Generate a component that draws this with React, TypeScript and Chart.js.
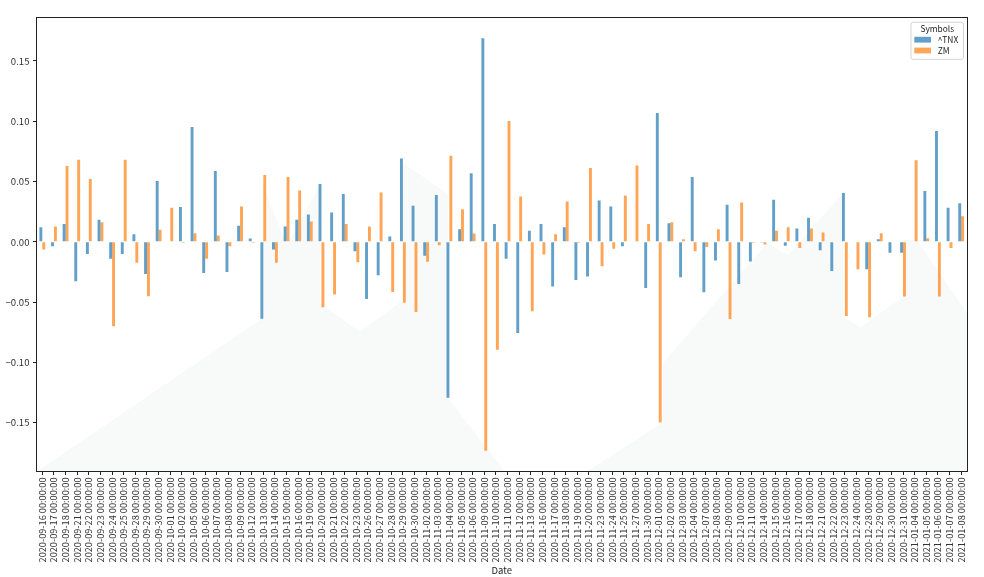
import React, { useEffect, useRef } from 'react';
import { Chart, registerables } from 'chart.js';

Chart.register(...registerables);

// ---------- data ----------
const dates: string[] = [
  '2020-09-16', '2020-09-17', '2020-09-18', '2020-09-21', '2020-09-22', '2020-09-23', '2020-09-24', '2020-09-25',
  '2020-09-28', '2020-09-29', '2020-09-30', '2020-10-01', '2020-10-02', '2020-10-05', '2020-10-06', '2020-10-07',
  '2020-10-08', '2020-10-09', '2020-10-12', '2020-10-13', '2020-10-14', '2020-10-15', '2020-10-16', '2020-10-19',
  '2020-10-20', '2020-10-21', '2020-10-22', '2020-10-23', '2020-10-26', '2020-10-27', '2020-10-28', '2020-10-29',
  '2020-10-30', '2020-11-02', '2020-11-03', '2020-11-04', '2020-11-05', '2020-11-06', '2020-11-09', '2020-11-10',
  '2020-11-11', '2020-11-12', '2020-11-13', '2020-11-16', '2020-11-17', '2020-11-18', '2020-11-19', '2020-11-20',
  '2020-11-23', '2020-11-24', '2020-11-25', '2020-11-27', '2020-11-30', '2020-12-01', '2020-12-02', '2020-12-03',
  '2020-12-04', '2020-12-07', '2020-12-08', '2020-12-09', '2020-12-10', '2020-12-11', '2020-12-14', '2020-12-15',
  '2020-12-16', '2020-12-17', '2020-12-18', '2020-12-21', '2020-12-22', '2020-12-23', '2020-12-24', '2020-12-28',
  '2020-12-29', '2020-12-30', '2020-12-31', '2021-01-04', '2021-01-05', '2021-01-06', '2021-01-07', '2021-01-08',
];
const timeSuffix = '00:00:00';

const tnx: number[] = [
  0.0122, -0.0036, 0.0147, -0.0327, -0.0100, 0.0183, -0.0141, -0.0100,
  0.0064, -0.0266, 0.0504, 0.0000, 0.0288, 0.0953, -0.0258, 0.0587,
  -0.0249, 0.0133, 0.0028, -0.0637, -0.0064, 0.0127, 0.0183, 0.0227,
  0.0479, 0.0244, 0.0396, -0.0078, -0.0474, -0.0277, 0.0044, 0.0692,
  0.0299, -0.0116, 0.0388, -0.1293, 0.0105, 0.0568, 0.1689, 0.0147,
  -0.0141, -0.0756, 0.0091, 0.0147, -0.0371, 0.0122, -0.0316, -0.0288,
  0.0343, 0.0294, -0.0036, 0.0000, -0.0382, 0.1069, 0.0155, -0.0294,
  0.0537, -0.0418, -0.0155, 0.0307, -0.0349, -0.0163, -0.0006, 0.0349,
  -0.0033, 0.0111, 0.0199, -0.0069, -0.0241, 0.0404, 0.0000, -0.0227,
  0.0022, -0.0091, -0.0091, 0.0000, 0.0421, 0.0919, 0.0282, 0.0321,
];

const zm: number[] = [
  -0.0064, 0.0127, 0.0629, 0.0681, 0.0521, 0.0163, -0.0700, 0.0681,
  -0.0174, -0.0451, 0.0100, 0.0282, -0.0008, 0.0072, -0.0141, 0.0053,
  -0.0036, 0.0294, -0.0008, 0.0554, -0.0174, 0.0537, 0.0426, 0.0169,
  -0.0543, -0.0437, 0.0147, -0.0169, 0.0127, 0.0410, -0.0415, -0.0504,
  -0.0581, -0.0166, -0.0028, 0.0714, 0.0271, 0.0069, -0.1733, -0.0894,
  0.1002, 0.0377, -0.0576, -0.0105, 0.0064, 0.0335, -0.0008, 0.0612,
  -0.0202, -0.0058, 0.0385, 0.0634, 0.0147, -0.1498, 0.0163, 0.0022,
  -0.0078, -0.0042, 0.0105, -0.0640, 0.0327, -0.0008, -0.0022, 0.0091,
  0.0122, -0.0050, 0.0111, 0.0078, 0.0000, -0.0615, -0.0227, -0.0626,
  0.0072, -0.0003, -0.0454, 0.0676, 0.0030, -0.0454, -0.0050, 0.0213,
];

const seriesNames: string[] = ['^TNX', 'ZM'];
const legendTitle = 'Symbols';
const xAxisTitle = 'Date';
const yTickValues: number[] = [-0.15, -0.1, -0.05, 0, 0.05, 0.1, 0.15];

// ---------- style ----------
const FONT = '"Noto Sans CJK JP", "Noto Sans", sans-serif';
const COLORS = ['rgba(31,119,180,0.7)', 'rgba(255,127,14,0.7)'];
const AXIS_COLOR = '#222';
const WATERMARK_COLOR = 'rgb(248,250,250)';

// faint background emblem, in fractions of the plot area
const watermarkShapes: number[][][] = [
  [
    [0, 1], [0.2434, 0.6619], [0.2434, 0.3689], [0.2692, 0.5011], [0.3047, 0.3689],
    [0.3047, 0.6289], [0.3477, 0.6927], [0.3939, 0.6222], [0.3939, 0.3205],
    [0.4423, 0.3888], [0.4423, 0.8381], [0.5035, 1],
  ],
  [
    [0.5916, 1], [0.6733, 0.891], [0.6733, 0.761], [0.7851, 0.4967], [0.8076, 0.5231],
    [0.8668, 0.3866], [0.8668, 0.6597], [0.8861, 0.6817], [0.9312, 0.6156],
    [0.9312, 0.4901], [0.9463, 0.4901], [1, 0.6509], [1, 1],
  ],
];

const allValues = [...tnx, ...zm];
const dataMin = Math.min(0, ...allValues);
const dataMax = Math.max(0, ...allValues);
const span = dataMax - dataMin;
const yMin = dataMin - 0.05 * span;
const yMax = dataMax + 0.05 * span;

const fmtTick = (v: number) => {
  const s = Math.abs(v).toFixed(2);
  return v < -1e-9 ? '\u2212' + s : s;
};

const watermarkPlugin = {
  id: 'watermark',
  beforeDatasetsDraw(chart: any) {
    const { ctx, chartArea: ca } = chart;
    ctx.save();
    ctx.fillStyle = WATERMARK_COLOR;
    for (const shape of watermarkShapes) {
      ctx.beginPath();
      shape.forEach(([fx, fy], i) => {
        const x = ca.left + fx * (ca.right - ca.left);
        const y = ca.top + fy * (ca.bottom - ca.top);
        if (i === 0) ctx.moveTo(x, y);
        else ctx.lineTo(x, y);
      });
      ctx.closePath();
      ctx.fill();
    }
    ctx.restore();
  },
};

const framePlugin = {
  id: 'frameAndLegend',
  afterDraw(chart: any) {
    const { ctx, chartArea: ca } = chart;
    ctx.save();
    // axes frame
    ctx.strokeStyle = AXIS_COLOR;
    ctx.lineWidth = 1;
    const l = Math.floor(ca.left) + 0.5;
    const t = Math.floor(ca.top) + 0.5;
    const r = Math.floor(ca.right) + 0.5;
    const b = Math.floor(ca.bottom) + 0.5;
    ctx.strokeRect(l, t, r - l, b - t);

    // legend
    const fs = 8.4;
    const boxW = 52.5;
    const boxH = 37;
    const bx = ca.right - 3.5 - boxW;
    const by = ca.top + 4.8;
    ctx.fillStyle = 'rgba(255,255,255,0.8)';
    ctx.strokeStyle = '#d4d4d4';
    ctx.beginPath();
    const rad = 2;
    ctx.moveTo(bx + rad, by);
    ctx.lineTo(bx + boxW - rad, by);
    ctx.quadraticCurveTo(bx + boxW, by, bx + boxW, by + rad);
    ctx.lineTo(bx + boxW, by + boxH - rad);
    ctx.quadraticCurveTo(bx + boxW, by + boxH, bx + boxW - rad, by + boxH);
    ctx.lineTo(bx + rad, by + boxH);
    ctx.quadraticCurveTo(bx, by + boxH, bx, by + boxH - rad);
    ctx.lineTo(bx, by + rad);
    ctx.quadraticCurveTo(bx, by, bx + rad, by);
    ctx.closePath();
    ctx.fill();
    ctx.stroke();

    ctx.fillStyle = '#222';
    ctx.font = `${fs}px ${FONT}`;
    ctx.textBaseline = 'middle';
    ctx.textAlign = 'center';
    ctx.fillText(legendTitle, bx + boxW / 2, by + 6.4);
    ctx.textAlign = 'left';
    const rows = [by + 17.4, by + 28.2];
    seriesNames.forEach((name, i) => {
      ctx.fillStyle = COLORS[i];
      ctx.fillRect(bx + 3.3, rows[i] - 2.9, 16.7, 5.8);
      ctx.fillStyle = '#222';
      ctx.fillText(name, bx + 26.7, rows[i]);
    });
    ctx.restore();
  },
};

export default function App() {
  const canvasRef = useRef<HTMLCanvasElement | null>(null);

  useEffect(() => {
    document.body.style.margin = '0';
    const canvas = canvasRef.current;
    if (!canvas) return;
    const chart = new Chart(canvas, {
      type: 'bar',
      data: {
        labels: dates.map((d) => `${d} ${timeSuffix}`),
        datasets: [
          {
            label: seriesNames[0],
            data: tnx,
            backgroundColor: COLORS[0],
            borderWidth: 0,
            categoryPercentage: 0.5,
            barPercentage: 1.0,
          },
          {
            label: seriesNames[1],
            data: zm,
            backgroundColor: COLORS[1],
            borderWidth: 0,
            categoryPercentage: 0.5,
            barPercentage: 1.0,
          },
        ],
      },
      options: {
        animation: false,
        responsive: false,
        maintainAspectRatio: false,
        devicePixelRatio: 1,
        layout: { padding: { left: 0, top: 17.5, right: 17, bottom: 0 } },
        plugins: {
          legend: { display: false },
          tooltip: { enabled: false },
        },
        scales: {
          x: {
            type: 'category',
            offset: true,
            border: { display: false },
            grid: {
              display: true,
              drawOnChartArea: false,
              drawTicks: true,
              tickLength: 3.5,
              color: AXIS_COLOR,
              offset: false,
            },
            ticks: {
              autoSkip: false,
              maxRotation: 90,
              minRotation: 90,
              padding: 2.5,
              color: '#333',
              font: { family: FONT, size: 9.2 },
            },
            title: {
              display: true,
              text: xAxisTitle,
              color: '#222',
              font: { family: FONT, size: 9.5 },
              padding: { top: 0, bottom: 0.5 },
            },
            afterFit: (scale: any) => {
              scale.height = 105.5;
            },
          },
          y: {
            type: 'linear',
            min: yMin,
            max: yMax,
            border: { display: false },
            grid: {
              display: true,
              drawOnChartArea: false,
              drawTicks: true,
              tickLength: 3.5,
              color: AXIS_COLOR,
            },
            afterBuildTicks: (scale: any) => {
              scale.ticks = yTickValues.map((v) => ({ value: v }));
            },
            ticks: {
              padding: 3.5,
              color: '#333',
              font: { family: FONT, size: 9.6 },
              callback: (v: any) => fmtTick(Number(v)),
            },
            afterFit: (scale: any) => {
              scale.width = 36.5;
            },
          },
        },
      },
      plugins: [watermarkPlugin, framePlugin],
    } as any);
    return () => chart.destroy();
  }, []);

  return (
    <div style={{ width: 984, height: 577, background: '#fff' }}>
      <canvas ref={canvasRef} width={984} height={577} style={{ display: 'block' }} />
    </div>
  );
}
